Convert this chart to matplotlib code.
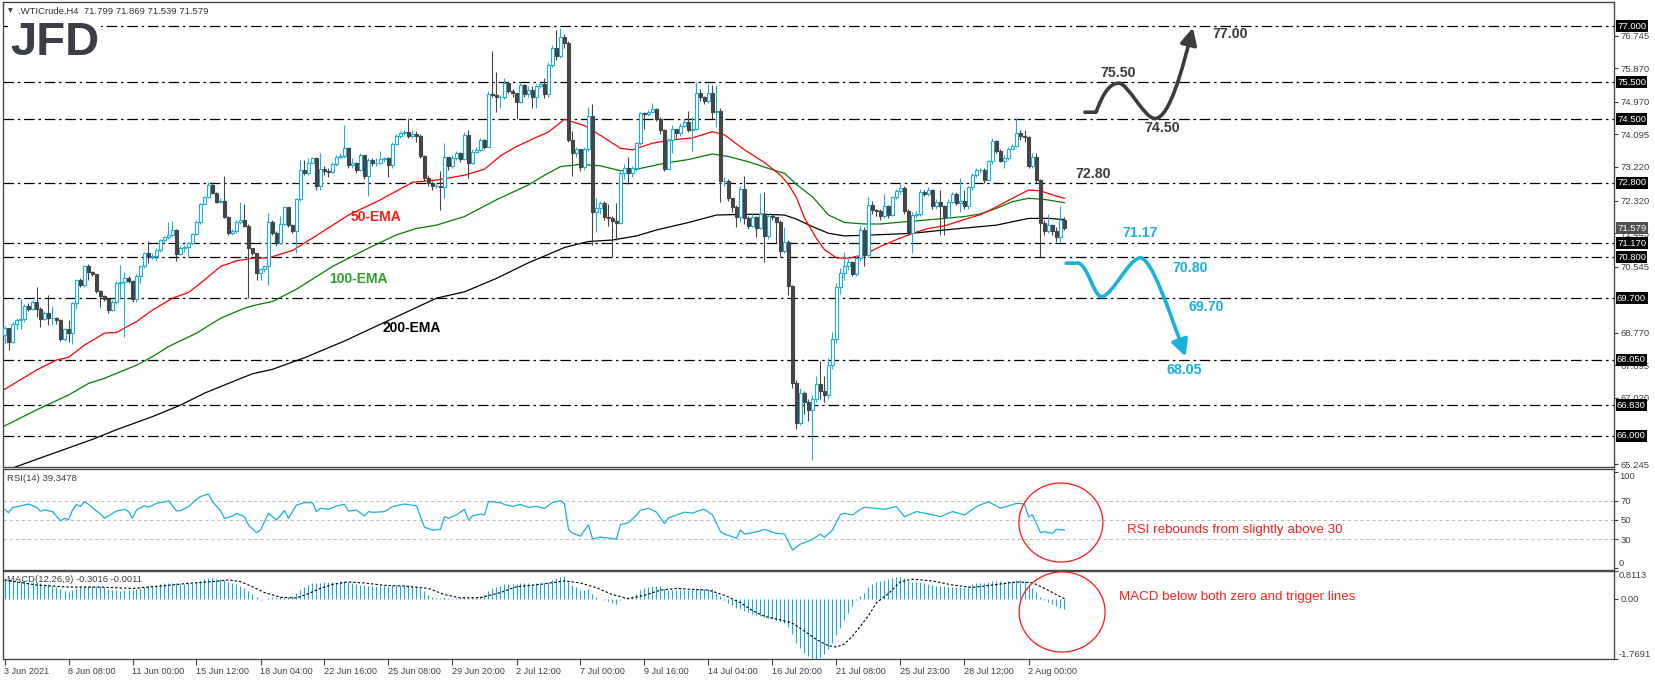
import numpy as np
import matplotlib
matplotlib.use("Agg")
import matplotlib.pyplot as plt
from matplotlib.path import Path
from matplotlib.patches import FancyArrowPatch, Ellipse
from matplotlib.transforms import blended_transform_factory

plt.rcParams['font.family'] = ['Liberation Sans', 'DejaVu Sans']

# ---- WTI Crude H4 candles (bar 0 = 3 Jun 16:00) ----
first_open = 68.71
closes = [
    68.89, 68.53, 69.01, 69.10, 69.14, 69.49, 69.40, 69.60, 69.41, 69.13,
    69.29, 69.16, 69.18, 69.10, 68.60, 68.86, 68.76, 69.56, 70.20, 70.04,
    70.56, 70.41, 70.34, 69.90, 69.76, 69.68, 69.38, 69.60, 70.10, 70.12,
    70.23, 70.15, 69.67, 70.30, 70.56, 70.90, 70.80, 70.82, 71.00, 71.26,
    71.33, 71.40, 71.53, 70.88, 71.04, 71.08, 71.18, 71.42, 71.75, 72.22,
    72.41, 72.74, 72.53, 72.29, 72.31, 71.87, 71.46, 71.50, 71.75, 71.80,
    71.64, 71.04, 70.90, 70.37, 70.47, 70.56, 71.75, 71.46, 71.19, 71.70,
    72.15, 71.67, 71.50, 72.35, 73.14, 73.07, 73.34, 73.45, 72.70, 73.16,
    73.10, 73.08, 73.30, 73.50, 73.52, 73.72, 73.27, 73.33, 73.14, 73.54,
    72.99, 73.41, 73.32, 73.33, 73.43, 73.45, 73.26, 73.85, 74.04, 74.12,
    74.15, 74.04, 74.10, 74.06, 73.52, 72.92, 72.80, 72.70, 72.72, 72.69,
    73.48, 73.25, 73.47, 73.59, 73.43, 74.08, 73.32, 73.63, 73.68, 73.95,
    73.75, 75.18, 75.15, 75.09, 75.10, 75.48, 75.27, 75.20, 74.97, 75.42,
    75.18, 75.28, 75.10, 75.39, 75.46, 75.17, 75.95, 76.40, 76.20, 76.70,
    76.55, 73.94, 73.59, 73.69, 73.21, 73.69, 74.59, 72.02, 72.12, 72.26,
    71.87, 71.84, 71.78, 71.72, 73.05, 73.18, 73.05, 73.18, 73.87, 74.66,
    74.64, 74.70, 74.78, 74.50, 74.21, 73.16, 73.94, 74.23, 74.12, 74.32,
    74.44, 74.21, 74.25, 75.21, 75.10, 74.99, 75.20, 74.70, 74.72, 72.85,
    72.85, 72.38, 72.15, 71.89, 72.62, 71.84, 71.64, 71.87, 71.57, 71.96,
    71.37, 71.90, 71.87, 71.75, 70.97, 71.22, 70.02, 67.41, 66.36, 67.15,
    66.90, 66.70, 67.00, 67.40, 67.20, 67.10, 67.90, 68.60, 70.00, 70.37,
    70.56, 70.66, 70.35, 70.77, 71.53, 70.86, 72.20, 72.07, 72.05, 71.90,
    72.17, 71.93, 72.42, 72.58, 72.66, 72.05, 71.44, 71.93, 71.96, 72.56,
    72.50, 72.60, 72.16, 72.29, 72.16, 71.89, 72.29, 72.50, 72.26, 72.32,
    72.17, 72.67, 73.00, 73.14, 73.14, 72.87, 73.38, 73.93, 73.66, 73.39,
    73.47, 73.69, 73.78, 74.14, 74.05, 74.03, 73.25, 73.48, 72.87, 71.73,
    71.49, 71.66, 71.49, 71.33, 71.799, 71.579,
]
highs = [
    68.94, 68.90, 69.05, 69.16, 69.67, 69.55, 69.57, 69.65, 69.99, 69.45,
    69.35, 69.79, 69.50, 69.20, 69.15, 68.90, 69.12, 69.60, 70.22, 70.25,
    70.60, 70.62, 70.42, 70.36, 69.92, 69.78, 69.70, 69.65, 70.15, 70.60,
    70.40, 70.30, 70.20, 70.35, 70.60, 70.95, 71.23, 70.90, 71.05, 71.30,
    71.38, 71.75, 71.78, 71.55, 71.10, 71.12, 71.20, 71.45, 71.80, 72.25,
    72.45, 72.83, 72.83, 72.55, 72.38, 72.98, 71.90, 71.55, 71.80, 72.29,
    72.22, 71.70, 71.05, 70.92, 70.50, 70.60, 71.98, 71.80, 71.50, 71.90,
    72.18, 72.15, 71.70, 72.40, 73.40, 73.40, 73.45, 73.50, 73.50, 73.59,
    73.25, 73.20, 73.35, 73.55, 73.60, 74.36, 73.75, 73.45, 73.35, 73.60,
    73.55, 73.45, 73.45, 73.45, 73.65, 73.50, 73.50, 73.90, 74.10, 74.18,
    74.20, 74.53, 74.20, 74.18, 74.10, 73.55, 73.00, 72.85, 72.80, 73.10,
    73.86, 73.50, 73.55, 73.65, 73.62, 74.15, 74.20, 73.70, 73.75, 74.00,
    73.98, 75.25, 76.32, 75.78, 75.15, 75.60, 75.50, 75.30, 75.20, 75.50,
    75.45, 75.40, 75.40, 75.45, 75.50, 75.60, 76.05, 76.50, 76.90, 76.95,
    76.80, 76.60, 74.18, 73.75, 73.70, 73.75, 74.84, 74.90, 72.38, 72.30,
    72.30, 72.23, 71.90, 72.25, 73.10, 73.30, 73.50, 73.25, 73.90, 74.70,
    74.70, 74.75, 74.93, 74.80, 74.55, 74.25, 74.00, 74.35, 74.25, 74.40,
    74.50, 74.73, 74.55, 75.49, 75.30, 75.12, 75.45, 75.42, 75.42, 74.80,
    72.95, 72.90, 72.40, 72.20, 72.70, 72.98, 71.90, 71.95, 71.90, 72.51,
    72.56, 71.95, 71.95, 71.80, 71.80, 71.62, 71.25, 70.05, 67.50, 67.30,
    67.20, 67.00, 67.10, 67.60, 68.00, 67.60, 68.10, 68.80, 70.10, 70.50,
    70.93, 70.80, 70.70, 70.85, 71.66, 71.60, 72.42, 72.30, 72.10, 72.10,
    72.50, 72.20, 72.45, 72.62, 72.80, 72.70, 72.10, 72.00, 72.05, 72.62,
    72.60, 72.68, 72.62, 72.35, 72.60, 72.20, 72.35, 72.55, 72.55, 72.92,
    72.60, 72.70, 73.05, 73.20, 73.20, 73.20, 73.42, 74.00, 73.95, 73.70,
    73.55, 73.75, 73.85, 74.53, 74.20, 74.20, 74.05, 73.60, 73.60, 72.90,
    71.80, 71.95, 71.70, 71.60, 72.18, 71.869,
]
lows = [
    68.49, 68.31, 68.50, 68.86, 68.87, 69.05, 69.35, 69.38, 69.20, 68.92,
    69.10, 68.98, 68.98, 69.00, 68.55, 68.55, 68.53, 68.47, 69.40, 70.00,
    70.00, 70.20, 70.30, 69.85, 69.47, 69.62, 69.30, 69.35, 69.55, 69.67,
    68.67, 70.10, 69.60, 69.60, 70.10, 70.50, 70.65, 70.75, 70.70, 70.95,
    71.22, 71.30, 71.38, 70.71, 70.85, 70.95, 70.80, 71.15, 71.40, 71.70,
    72.20, 72.38, 72.50, 72.25, 72.25, 71.85, 71.40, 71.40, 71.45, 71.70,
    71.60, 69.70, 70.85, 70.20, 70.20, 70.40, 70.05, 71.40, 71.10, 71.15,
    71.65, 71.60, 71.45, 70.90, 72.30, 73.00, 73.00, 73.35, 72.60, 72.60,
    73.00, 72.95, 73.05, 73.25, 73.45, 73.45, 73.20, 73.20, 73.05, 73.10,
    72.90, 72.44, 73.25, 73.25, 73.30, 73.35, 72.96, 73.20, 73.80, 74.00,
    74.08, 74.00, 74.00, 73.90, 73.45, 72.85, 72.70, 72.60, 72.65, 72.07,
    72.40, 73.15, 73.20, 73.40, 73.35, 73.40, 72.92, 73.30, 73.60, 73.65,
    73.70, 73.75, 75.10, 74.70, 74.80, 75.05, 75.20, 75.10, 74.50, 74.95,
    75.10, 75.10, 74.80, 74.80, 75.35, 75.06, 75.10, 75.90, 76.10, 76.15,
    76.40, 73.90, 72.98, 73.50, 73.10, 73.15, 73.65, 71.13, 71.48, 71.95,
    71.80, 71.64, 70.80, 71.26, 71.70, 72.90, 72.75, 72.95, 73.10, 73.80,
    74.25, 74.60, 74.70, 74.45, 74.10, 73.10, 73.15, 73.60, 74.00, 74.05,
    74.30, 74.15, 73.66, 74.20, 75.00, 74.90, 74.95, 74.50, 74.30, 72.29,
    72.70, 72.30, 72.00, 71.60, 71.75, 71.70, 71.55, 71.60, 71.35, 71.55,
    70.68, 71.30, 71.80, 71.17, 70.80, 70.90, 69.78, 67.30, 66.20, 66.30,
    66.60, 66.40, 65.35, 66.90, 67.00, 66.90, 67.00, 67.80, 68.50, 69.80,
    70.20, 70.45, 70.30, 70.30, 70.70, 70.55, 70.80, 71.95, 71.90, 71.80,
    71.85, 71.85, 71.90, 72.35, 72.50, 71.95, 71.40, 70.92, 71.85, 71.90,
    72.45, 72.45, 72.10, 72.10, 71.40, 71.40, 71.85, 72.25, 72.20, 72.00,
    72.10, 72.10, 72.60, 72.95, 73.05, 72.80, 72.85, 73.30, 73.60, 73.35,
    73.20, 73.40, 73.70, 73.75, 73.95, 73.90, 73.20, 73.20, 72.80, 70.80,
    71.40, 71.45, 71.40, 71.20, 71.17, 71.539,
]

# moving averages, read at points along each line
ema50_bars = [0, 8, 13, 16, 20, 25, 28, 33, 37, 42, 46, 50, 54, 58, 62, 66, 72, 78, 86, 94,
              102, 108, 115, 120, 124, 128, 132, 136, 140, 145, 149, 154, 157, 162, 167, 172,
              177, 180, 185, 190, 194, 196, 198, 200, 203, 205, 208, 211, 215, 219, 223, 227,
              231, 235, 240, 244, 248, 252, 256, 259, 262, 265]
ema50_vals = [67.25, 67.77, 68.04, 68.11, 68.44, 68.76, 68.78, 69.07, 69.38, 69.70, 69.85,
              70.19, 70.55, 70.70, 70.77, 70.78, 70.98, 71.38, 71.93, 72.34, 72.81, 72.87,
              73.00, 73.16, 73.52, 73.77, 73.97, 74.16, 74.50, 74.33, 74.07, 73.72, 73.68,
              73.86, 73.95, 74.00, 74.17, 74.08, 73.68, 73.34, 73.00, 72.75, 72.40, 71.85,
              71.30, 71.00, 70.78, 70.77, 70.87, 71.09, 71.27, 71.44, 71.57, 71.64, 71.81,
              71.94, 72.15, 72.38, 72.60, 72.58, 72.47, 72.38]
ema100_bars = [0, 8, 16, 21, 25, 33, 37, 41, 48, 54, 60, 63, 67, 73, 82, 90, 98, 103, 108,
               115, 123, 131, 135, 139, 144, 149, 154, 158, 165, 171, 177, 181, 186, 191, 195,
               198, 202, 206, 210, 215, 219, 223, 231, 240, 244, 248, 252, 256, 260, 265]
ema100_vals = [66.27, 66.70, 67.10, 67.41, 67.55, 67.90, 68.13, 68.40, 68.76, 69.16, 69.43,
               69.52, 69.61, 69.94, 70.55, 70.99, 71.40, 71.57, 71.66, 71.89, 72.34, 72.74,
               73.00, 73.23, 73.29, 73.25, 73.12, 73.16, 73.32, 73.42, 73.57, 73.50, 73.36,
               73.18, 73.05, 72.75, 72.42, 71.93, 71.73, 71.69, 71.69, 71.73, 71.80, 71.89,
               71.96, 72.11, 72.29, 72.38, 72.35, 72.26]
ema200_bars = [0, 3, 10, 16, 22, 28, 37, 44, 50, 58, 62, 67, 75, 85, 95, 102, 108, 115, 123,
               131, 135, 140, 146, 152, 158, 163, 171, 178, 185, 190, 195, 198, 202, 206, 210,
               218, 227, 235, 244, 248, 252, 256, 261, 265]
ema200_vals = [65.05, 65.18, 65.45, 65.68, 65.91, 66.17, 66.52, 66.83, 67.15, 67.50, 67.67,
               67.79, 68.10, 68.55, 69.05, 69.40, 69.70, 69.87, 70.23, 70.65, 70.83, 71.06,
               71.22, 71.26, 71.37, 71.53, 71.73, 71.93, 71.95, 71.95, 71.93, 71.82, 71.62,
               71.44, 71.37, 71.40, 71.44, 71.53, 71.62, 71.66, 71.75, 71.84, 71.84, 71.81]

# RSI(14)
rsi_bars = [0, 1, 2, 4, 6, 8, 9, 10, 12, 14, 15, 16, 17, 18, 19, 20, 21, 23, 24, 25, 28, 30,
            31, 32, 33, 35, 36, 38, 40, 41, 43, 44, 46, 48, 49, 51, 52, 54, 55, 57, 58, 60,
            61, 63, 64, 66, 68, 70, 71, 73, 75, 77, 78, 79, 81, 83, 85, 86, 87, 88, 90, 91,
            92, 95, 97, 100, 103, 105, 107, 109, 110, 111, 113, 115, 116, 117, 119, 120, 121,
            124, 125, 127, 129, 131, 133, 135, 137, 139, 140, 141, 142, 144, 146, 147, 149,
            151, 153, 154, 156, 158, 159, 161, 163, 165, 166, 168, 170, 172, 174, 175, 177,
            179, 180, 183, 184, 185, 187, 189, 190, 193, 195, 197, 199, 200, 202, 204, 205,
            207, 209, 210, 212, 214, 215, 220, 223, 225, 228, 231, 234, 237, 240, 243, 246,
            249, 251, 253, 255, 256, 257, 259, 260, 262, 263, 265]
rsi_vals = [61.0, 57.5, 62.7, 64.5, 66.5, 63.0, 59.0, 60.3, 58.6, 49.0, 51.6, 50.0, 60.0, 66.0,
            64.0, 69.0, 66.2, 59.2, 56.1, 51.6, 59.2, 61.0, 58.6, 51.6, 60.3, 64.8, 63.1, 67.2,
            68.6, 70.0, 59.2, 59.6, 63.8, 71.4, 74.2, 77.0, 69.0, 59.6, 51.6, 54.0, 56.8, 53.3,
            44.6, 36.6, 39.4, 56.8, 49.9, 59.6, 51.6, 65.5, 67.9, 67.9, 58.6, 62.1, 61.0, 64.5,
            66.2, 59.2, 59.6, 60.3, 54.0, 58.6, 57.8, 58.6, 63.8, 66.5, 64.5, 42.2, 39.4, 40.1,
            53.3, 51.6, 55.1, 61.0, 49.9, 54.0, 56.1, 55.1, 69.0, 67.9, 66.0, 64.0, 66.0, 63.0,
            64.0, 62.0, 68.0, 70.0, 67.0, 40.0, 36.0, 33.0, 45.0, 30.0, 32.0, 31.0, 30.0, 45.0,
            47.0, 55.0, 60.0, 62.0, 58.0, 46.0, 52.0, 55.0, 58.0, 57.0, 60.3, 60.9, 55.1, 37.6,
            35.2, 30.7, 39.4, 35.2, 36.6, 38.7, 40.1, 35.9, 35.2, 18.5, 24.8, 26.2, 29.7, 35.2,
            31.7, 39.4, 55.7, 56.8, 55.1, 61.0, 63.1, 61.0, 63.8, 53.3, 58.6, 56.1, 53.3, 58.6,
            55.1, 63.8, 69.0, 62.1, 64.5, 67.2, 66.6, 53.3, 55.1, 36.6, 37.6, 35.9, 40.1, 39.3478]

# MACD(12,26,9): main line as histogram (one value per bar), signal line
macd_hist = [
    0.58, 0.55, 0.53, 0.53, 0.52, 0.52, 0.50, 0.48, 0.47, 0.46,
    0.44, 0.42, 0.38, 0.33, 0.27, 0.22, 0.20, 0.26, 0.32, 0.34,
    0.36, 0.37, 0.37, 0.38, 0.38, 0.34, 0.28, 0.25, 0.24, 0.23,
    0.24, 0.25, 0.24, 0.28, 0.31, 0.35, 0.37, 0.38, 0.40, 0.42,
    0.45, 0.46, 0.47, 0.45, 0.44, 0.44, 0.45, 0.46, 0.48, 0.52,
    0.57, 0.60, 0.60, 0.59, 0.57, 0.54, 0.50, 0.46, 0.42, 0.38,
    0.30, 0.22, 0.14, 0.05, -0.04, 0.00, 0.03, 0.04, 0.03, 0.04,
    0.05, 0.04, 0.08, 0.16, 0.26, 0.35, 0.40, 0.45, 0.46, 0.47,
    0.48, 0.49, 0.50, 0.50, 0.51, 0.51, 0.49, 0.47, 0.44, 0.41,
    0.39, 0.38, 0.38, 0.37, 0.37, 0.37, 0.38, 0.39, 0.40, 0.40,
    0.40, 0.39, 0.38, 0.36, 0.30, 0.22, 0.12, 0.05, 0.02, 0.03,
    0.04, 0.03, 0.02, 0.03, 0.03, 0.04, 0.03, 0.04, 0.06, 0.08,
    0.12, 0.22, 0.30, 0.35, 0.38, 0.42, 0.44, 0.44, 0.43, 0.45,
    0.45, 0.45, 0.44, 0.45, 0.46, 0.46, 0.50, 0.56, 0.60, 0.65,
    0.66, 0.50, 0.40, 0.33, 0.26, 0.24, 0.28, 0.15, 0.06, 0.00,
    -0.04, -0.08, -0.12, -0.15, -0.05, 0.02, 0.05, 0.08, 0.15, 0.24,
    0.30, 0.34, 0.38, 0.38, 0.36, 0.28, 0.26, 0.26, 0.25, 0.25,
    0.26, 0.26, 0.25, 0.30, 0.30, 0.29, 0.28, 0.27, 0.18, 0.08,
    -0.04, -0.12, -0.20, -0.27, -0.30, -0.36, -0.40, -0.45, -0.48, -0.52,
    -0.55, -0.57, -0.60, -0.62, -0.68, -0.72, -0.82, -1.05, -1.30, -1.45,
    -1.58, -1.68, -1.74, -1.77, -1.72, -1.62, -1.48, -1.30, -1.08, -0.85,
    -0.62, -0.42, -0.22, -0.05, 0.08, 0.18, 0.35, 0.42, 0.48, 0.52,
    0.55, 0.58, 0.60, 0.63, 0.65, 0.60, 0.52, 0.50, 0.50, 0.48,
    0.45, 0.42, 0.40, 0.38, 0.37, 0.36, 0.35, 0.35, 0.34, 0.34,
    0.35, 0.38, 0.42, 0.45, 0.47, 0.47, 0.49, 0.52, 0.52, 0.51,
    0.50, 0.51, 0.52, 0.54, 0.55, 0.52, 0.40, 0.30, 0.20, 0.05,
    -0.03, -0.10, -0.16, -0.22, -0.27, -0.3016,
]
signal_bars = [0, 8, 16, 24, 32, 40, 46, 52, 56, 59, 62, 65, 69, 73, 76, 79, 82, 86, 90, 95,
               100, 106, 110, 114, 119, 124, 128, 134, 140, 144, 148, 152, 156, 160, 164,
               168, 172, 176, 180, 184, 187, 190, 194, 197, 200, 203, 206, 208, 210, 212,
               214, 216, 218, 221, 224, 227, 232, 237, 242, 247, 253, 257, 260, 265]
signal_vals = [0.55, 0.40, 0.34, 0.34, 0.30, 0.38, 0.45, 0.50, 0.55, 0.50, 0.35, 0.18, 0.04,
               0.02, 0.15, 0.30, 0.42, 0.49, 0.46, 0.39, 0.37, 0.30, 0.12, 0.02, 0.03, 0.18,
               0.35, 0.42, 0.52, 0.46, 0.32, 0.12, 0.00, 0.10, 0.25, 0.30, 0.27, 0.25, 0.10,
               -0.12, -0.35, -0.52, -0.62, -0.72, -0.95, -1.20, -1.38, -1.42, -1.33, -1.10,
               -0.80, -0.50, -0.12, 0.15, 0.50, 0.57, 0.52, 0.40, 0.33, 0.40, 0.49, 0.47,
               0.30, -0.0011]

levels = [77.00, 75.50, 74.50, 72.80, 71.17, 70.80, 69.70, 68.05, 66.83, 66.00]
price_ticks = [76.745, 75.870, 74.970, 74.095, 73.220, 72.320, 71.445, 70.545,
               68.770, 67.895, 67.020, 65.245]
date_labels = ['3 Jun 2021', '8 Jun 08:00', '11 Jun 00:00', '15 Jun 12:00', '18 Jun 04:00',
               '22 Jun 16:00', '25 Jun 08:00', '29 Jun 20:00', '2 Jul 12:00', '7 Jul 00:00',
               '9 Jul 16:00', '14 Jul 04:00', '16 Jul 20:00', '21 Jul 08:00', '25 Jul 23:00',
               '28 Jul 12:00', '2 Aug 00:00']
bars_per_label = 16

BULL = '#18b0dc'
BEAR = '#454545'
DARK = '#3c3c3c'

# ---- layout (pixel based, 1655 x 680) ----
W, H = 1655.0, 680.0
fig = plt.figure(figsize=(W / 100, H / 100), dpi=100)
fig.patch.set_facecolor('white')


def panel(top, bottom, left=3, right=1614):
    return fig.add_axes([left / W, 1 - bottom / H, (right - left) / W, (bottom - top) / H])


ax = panel(2, 467)
ax_rsi = panel(469, 570)
ax_macd = panel(571, 659)

for a in (ax, ax_rsi, ax_macd):
    a.set_xlim(-0.375, 402.375)
    a.set_facecolor('white')
    for s in a.spines.values():
        s.set_color('#4a4a4a')
        s.set_linewidth(1.0)
    a.yaxis.tick_right()
    a.tick_params(axis='x', bottom=False, labelbottom=False)
    a.tick_params(axis='y', direction='out', length=3, width=0.8, pad=2,
                  labelsize=6.8, colors='#404040')

# ---- price panel ----
ax.set_ylim(65.168, 77.648)
for lv in levels:
    ax.axhline(lv, color='black', lw=0.9, dashes=(8.5, 3, 2, 3), zorder=1)

closes = np.asarray(closes)
n = len(closes)
highs = np.asarray(highs[:n])
lows = np.asarray(lows[:n])
idx = np.arange(n)
opens = np.r_[first_open, closes[:-1]]
hi = np.maximum(highs, np.maximum(opens, closes))
lo = np.minimum(lows, np.minimum(opens, closes))
up = closes >= opens

ax.plot(ema200_bars, ema200_vals, color='black', lw=0.9, zorder=2)
ax.plot(ema100_bars, ema100_vals, color='#008000', lw=0.9, zorder=2)
ax.plot(ema50_bars, ema50_vals, color='#ff0000', lw=0.9, zorder=2)

ax.vlines(idx[up], lo[up], hi[up], color=BULL, lw=0.8, zorder=3)
ax.vlines(idx[~up], lo[~up], hi[~up], color=BEAR, lw=0.8, zorder=3)
ax.bar(idx[up], (closes - opens)[up], bottom=opens[up], width=0.55,
       facecolor='white', edgecolor=BULL, lw=0.8, zorder=4)
ax.bar(idx[~up], (closes - opens)[~up], bottom=opens[~up], width=0.55,
       facecolor=BEAR, edgecolor=BEAR, lw=0.8, zorder=4)

ax.set_yticks(price_ticks)
ax.set_yticklabels([f'{t:.3f}' for t in price_ticks])

ytrans = blended_transform_factory(ax.transAxes, ax.transData)
xbox = 1 + 3 / 1611.0
for lv in levels:
    ax.text(xbox, lv, f'{lv:.3f}', transform=ytrans, ha='left', va='center', fontsize=6.8,
            color='white', clip_on=False, zorder=20,
            bbox=dict(boxstyle='square,pad=0.15', fc='black', ec='none'))
ax.text(xbox, closes[-1], f'{closes[-1]:.3f}', transform=ytrans, ha='left', va='center',
        fontsize=6.8, color='white', clip_on=False, zorder=21,
        bbox=dict(boxstyle='square,pad=0.15', fc='#505050', ec='none'))

# EMA labels
ax.text(92.9, 71.88, '50-EMA', color='#ff1a1a', fontsize=10, fontweight='bold',
        ha='center', va='center', zorder=6)
ax.text(88.4, 70.21, '100-EMA', color='#2e9e2e', fontsize=10, fontweight='bold',
        ha='center', va='center', zorder=6)
ax.text(101.75, 68.90, '200-EMA', color='black', fontsize=10, fontweight='bold',
        ha='center', va='center', zorder=6)

# scenario arrows
last = n - 1
C4, L, M = Path.CURVE4, Path.LINETO, Path.MOVETO

up_start = levels[2] + 0.19
up_verts = [(last + 5.1, up_start), (last + 7.9, up_start),
            (last + 9.8, 75.25), (last + 11.5, levels[1] - 0.03), (last + 13.6, levels[1] - 0.03),
            (last + 15.8, levels[1] - 0.03), (last + 20.0, levels[2] + 0.02), (last + 22.6, levels[2] + 0.02),
            (last + 26.3, levels[2] + 0.02), (last + 29.6, 75.9), (last + 32.1, levels[0] - 0.04)]
up_codes = [M, L, C4, C4, C4, C4, C4, C4, C4, C4, C4]
ax.add_patch(FancyArrowPatch(path=Path(up_verts, up_codes),
                             arrowstyle='-|>,head_length=10,head_width=5',
                             mutation_scale=1, lw=2.6, color=DARK, zorder=8))

dn_start = levels[5] - 0.16
dn_verts = [(last + 0.4, dn_start), (last + 3.5, dn_start),
            (last + 6.0, 70.55), (last + 7.3, levels[6] + 0.04), (last + 9.3, levels[6] + 0.04),
            (last + 11.8, levels[6] + 0.04), (last + 16.2, levels[5] - 0.02), (last + 18.9, levels[5] - 0.02),
            (last + 21.8, levels[5] - 0.02), (last + 26.0, 69.4), (last + 30.3, levels[7] + 0.08)]
dn_codes = [M, L, C4, C4, C4, C4, C4, C4, C4, C4, C4]
ax.add_patch(FancyArrowPatch(path=Path(dn_verts, dn_codes),
                             arrowstyle='-|>,head_length=10,head_width=5',
                             mutation_scale=1, lw=2.6, color=BULL, zorder=8))

num_kw = dict(fontsize=10.2, fontweight='bold', ha='center', va='center', zorder=9)
ax.text(last + 13.5, levels[1] + 0.23, f'{levels[1]:.2f}', color=DARK, **num_kw)
ax.text(last + 24.5, levels[2] - 0.23, f'{levels[2]:.2f}', color=DARK, **num_kw)
ax.text(last + 41.4, levels[0] - 0.20, f'{levels[0]:.2f}', color=DARK, **num_kw)
ax.text(last + 7.1, levels[3] + 0.23, f'{levels[3]:.2f}', color=DARK, **num_kw)
ax.text(last + 18.9, levels[4] + 0.28, f'{levels[4]:.2f}', color=BULL, **num_kw)
ax.text(last + 31.4, levels[5] - 0.29, f'{levels[5]:.2f}', color=BULL, **num_kw)
ax.text(last + 35.5, levels[6] - 0.23, f'{levels[6]:.2f}', color=BULL, **num_kw)
ax.text(last + 29.9, levels[7] - 0.28, f'{levels[7]:.2f}', color=BULL, **num_kw)

# ---- RSI panel ----
ax_rsi.set_ylim(-2.3, 103.0)
for lv in (70, 50, 30):
    ax_rsi.axhline(lv, color='#c0c0c0', lw=0.8, dashes=(3, 2.5), zorder=1)
ax_rsi.plot(rsi_bars, rsi_vals, color=BULL, lw=0.9, zorder=3)
ax_rsi.set_yticks([0, 30, 50, 70, 100])
ax_rsi.set_yticklabels(['', '30', '50', '70', ''])
rtrans = blended_transform_factory(ax_rsi.transAxes, ax_rsi.transData)
ax_rsi.text(1 + 5 / 1611.0, 100, '100', transform=rtrans, fontsize=6.8, color='#404040',
            ha='left', va='top', clip_on=False)
ax_rsi.text(1 + 5 / 1611.0, 0, '0', transform=rtrans, fontsize=6.8, color='#404040',
            ha='left', va='bottom', clip_on=False)
ax_rsi.text(0.0025, 0.91, f'RSI(14) {rsi_vals[-1]:.4f}', transform=ax_rsi.transAxes,
            fontsize=6.8, color='#404040', ha='left', va='center')
ax_rsi.add_patch(Ellipse((last - 0.9, 47.2), 21, 82.4, fill=False, ec='#ff1414', lw=0.9, zorder=5))
ax_rsi.text(last + 15.6, 39.4, 'RSI rebounds from slightly above 30', color='#ff1f1f',
            fontsize=9.6, ha='left', va='center')

# ---- MACD panel ----
macd_hist = np.asarray(macd_hist[:n])
ax_macd.set_ylim(-1.7691, 0.8113)
ax_macd.vlines(idx[:len(macd_hist)], 0, macd_hist, color='#1aa8d8', lw=0.8, zorder=2)
ax_macd.plot(signal_bars, signal_vals, color='black', lw=0.8, dashes=(2.2, 1.8), zorder=3)
ax_macd.set_yticks([-1.7691, 0.0, 0.8113])
ax_macd.set_yticklabels(['', '0.00', ''])
mtrans = blended_transform_factory(ax_macd.transAxes, ax_macd.transData)
ax_macd.text(1 + 5 / 1611.0, 0.8113, '0.8113', transform=mtrans, fontsize=6.8,
             color='#404040', ha='left', va='top', clip_on=False)
ax_macd.text(1 + 5 / 1611.0, -1.7691, '-1.7691', transform=mtrans, fontsize=6.8,
             color='#404040', ha='left', va='bottom', clip_on=False)
ax_macd.text(0.0025, 0.9, f'MACD(12,26,9) {macd_hist[-1]:.4f} {signal_vals[-1]:.4f}',
             transform=ax_macd.transAxes, fontsize=6.8, color='#404040', ha='left', va='center',
             zorder=6)
ax_macd.add_patch(Ellipse((last - 0.6, -0.39), 21.5, 2.35, fill=False, ec='#ff1414', lw=0.9, zorder=5))
ax_macd.text(last + 13.6, 0.05, 'MACD below both zero and trigger lines', color='#ff1f1f',
             fontsize=9.6, ha='left', va='center')

date_ticks = [i * bars_per_label for i in range(len(date_labels))]
ax_macd.set_xticks(date_ticks)
ax_macd.set_xticklabels(date_labels)
ax_macd.tick_params(axis='x', bottom=True, labelbottom=True, direction='out', length=4,
                    width=0.8, pad=2, labelsize=6.6, colors='#404040')
for lab in ax_macd.get_xticklabels():
    lab.set_ha('left')

# ---- header and logo ----
fig.text(8 / W, 1 - 11 / H, '\u25BC', fontsize=4.5, color='#333333', va='center',
         family='DejaVu Sans')
fig.text(18 / W, 1 - 11 / H,
         f'.WTICrude,H4  {opens[-1]:.3f} {hi[-1]:.3f} {lo[-1]:.3f} {closes[-1]:.3f}',
         fontsize=6.8, color='#333333', va='center')
fig.text(10 / W, 1 - 55 / H, 'JFD', fontsize=34, fontweight='bold', color='#3b3e46',
         va='baseline', family=['Liberation Sans Narrow', 'Liberation Sans'],
         bbox=dict(boxstyle='square,pad=0.05', fc='white', ec='none'))

fig.savefig('out.png', dpi=100, facecolor='white')
